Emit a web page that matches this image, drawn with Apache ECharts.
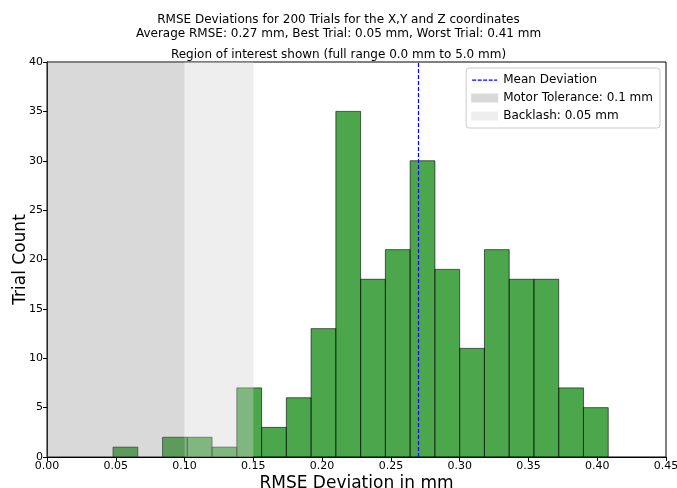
<!DOCTYPE html>
<html>
<head>
<meta charset="utf-8">
<script src="https://cdn.jsdelivr.net/npm/echarts@6/dist/echarts.min.js"></script>
<style>html,body{margin:0;padding:0;background:#fff}#c{width:677px;height:488px}</style>
</head>
<body>
<div id="c"></div>
<script>
// Histogram bin edges (mm) and counts per bin
const binEdges = [0.048, 0.066, 0.084, 0.102, 0.120, 0.138, 0.156, 0.174, 0.192, 0.210, 0.228,
                  0.246, 0.264, 0.282, 0.300, 0.318, 0.336, 0.354, 0.372, 0.390, 0.408];
const counts = [1, 0, 2, 2, 1, 7, 3, 6, 13, 35, 18, 21, 30, 19, 11, 21, 18, 18, 7, 5];
const meanDeviation = 0.27;
const motorTolerance = [0.0, 0.1];
const backlash = [0.1, 0.15];
const xTicks = [0, 0.05, 0.10, 0.15, 0.20, 0.25, 0.30, 0.35, 0.40, 0.45];
const yTicks = [0, 5, 10, 15, 20, 25, 30, 35, 40];

const histData = counts.map((c, i) => [binEdges[i], binEdges[i + 1], c]);
const FONT = 'DejaVu Sans';
const BLUE = '#0000ff';
// dashed-line legend icon (invisible corner dots fix the bounding box)
const dashIcon = 'path://M0,0h0.01v0.01h-0.01z M26.99,8.99h0.01v0.01h-0.01z ' +
  'M1,4h4v1.2h-4z M6.5,4h4v1.2h-4z M12,4h4v1.2h-4z M17.5,4h4v1.2h-4z M23,4h3v1.2h-3z';

const chart = echarts.init(document.getElementById('c'), null, {renderer: 'canvas'});
chart.setOption({
  animation: false,
  backgroundColor: '#fff',
  textStyle: {fontFamily: FONT},
  title: [
    {text: 'RMSE Deviations for 200 Trials for the X,Y and Z coordinates\nAverage RMSE: 0.27 mm, Best Trial: 0.05 mm, Worst Trial: 0.41 mm',
     left: 'center', top: 13, padding: 0,
     textStyle: {fontFamily: FONT, fontSize: 12, fontWeight: 'normal', color: '#000', lineHeight: 14}},
    {text: 'Region of interest shown (full range 0.0 mm to 5.0 mm)',
     left: 'center', top: 48, padding: 0,
     textStyle: {fontFamily: FONT, fontSize: 12, fontWeight: 'normal', color: '#000', lineHeight: 14}}
  ],
  grid: {left: 47, right: 11, top: 62, bottom: 31, containLabel: false, outerBoundsMode: 'none',
         show: true, borderColor: '#000', borderWidth: 1, backgroundColor: 'transparent'},
  legend: {
    orient: 'vertical', right: 17, top: 68,
    backgroundColor: '#fff', borderColor: '#ccc', borderWidth: 1, borderRadius: 3,
    padding: [6, 7, 6, 5], itemGap: 6, itemWidth: 27, itemHeight: 9,
    textStyle: {fontFamily: FONT, fontSize: 12, color: '#000'},
    data: [
      {name: 'Mean Deviation', icon: dashIcon, itemStyle: {color: BLUE}},
      {name: 'Motor Tolerance: 0.1 mm', icon: 'rect'},
      {name: 'Backlash: 0.05 mm', icon: 'rect'}
    ]
  },
  xAxis: {
    type: 'value', min: xTicks[0], max: xTicks[xTicks.length - 1], interval: 0.05,
    name: 'RMSE Deviation in mm', nameLocation: 'middle', nameGap: 18, nameMoveOverlap: false,
    nameTextStyle: {fontFamily: FONT, fontSize: 17, color: '#000'},
    axisLine: {show: true, lineStyle: {color: '#000', width: 1}},
    axisTick: {show: true, inside: false, length: 4, lineStyle: {color: '#000'}},
    axisLabel: {fontFamily: FONT, fontSize: 11, color: '#000', margin: 4, formatter: v => v.toFixed(2)},
    splitLine: {show: false}
  },
  yAxis: {
    type: 'value', min: yTicks[0], max: yTicks[yTicks.length - 1], interval: 5,
    name: 'Trial Count', nameLocation: 'middle', nameGap: 18, nameMoveOverlap: false,
    nameTextStyle: {fontFamily: FONT, fontSize: 17, color: '#000'},
    axisLine: {show: true, lineStyle: {color: '#000', width: 1}},
    axisTick: {show: true, inside: false, length: 4, lineStyle: {color: '#000'}},
    axisLabel: {fontFamily: FONT, fontSize: 11, color: '#000', margin: 4},
    splitLine: {show: false}
  },
  series: [
    {
      type: 'custom', name: 'Histogram', z: 2,
      data: histData,
      encode: {x: [0, 1], y: 2},
      renderItem: function (params, api) {
        const c = api.value(2);
        if (!c) return null;
        const p0 = api.coord([api.value(0), c]);
        const p1 = api.coord([api.value(1), 0]);
        return {
          type: 'rect',
          shape: {x: p0[0], y: p0[1], width: p1[0] - p0[0], height: p1[1] - p0[1]},
          style: {fill: 'rgba(0,128,0,0.7)', stroke: 'rgba(0,0,0,0.6)', lineWidth: 1}
        };
      }
    },
    {
      type: 'line', name: 'Motor Tolerance: 0.1 mm', z: 5, data: [],
      itemStyle: {color: 'rgba(128,128,128,0.3)'},
      lineStyle: {color: 'rgba(128,128,128,0.3)'},
      markArea: {silent: true, z: 10, itemStyle: {color: 'rgba(128,128,128,0.3)'},
        data: [[{xAxis: motorTolerance[0]}, {xAxis: motorTolerance[1]}]]}
    },
    {
      type: 'line', name: 'Backlash: 0.05 mm', z: 5, data: [],
      itemStyle: {color: 'rgba(211,211,211,0.38)'},
      lineStyle: {color: 'rgba(211,211,211,0.38)'},
      markArea: {silent: true, z: 10, itemStyle: {color: 'rgba(211,211,211,0.38)'},
        data: [[{xAxis: backlash[0]}, {xAxis: backlash[1]}]]}
    },
    {
      type: 'line', name: 'Mean Deviation', z: 6, data: [], symbol: 'none',
      color: BLUE,
      itemStyle: {color: BLUE},
      lineStyle: {color: BLUE, width: 1, type: [4, 2]},
      markLine: {silent: true, z: 11, symbol: 'none', label: {show: false},
        itemStyle: {color: BLUE},
        lineStyle: {color: BLUE, width: 1.2, type: [4, 2]},
        data: [{xAxis: meanDeviation, lineStyle: {color: BLUE, width: 1.2, type: [4, 2]}}]}
    }
  ]
});
</script>
</body>
</html>
